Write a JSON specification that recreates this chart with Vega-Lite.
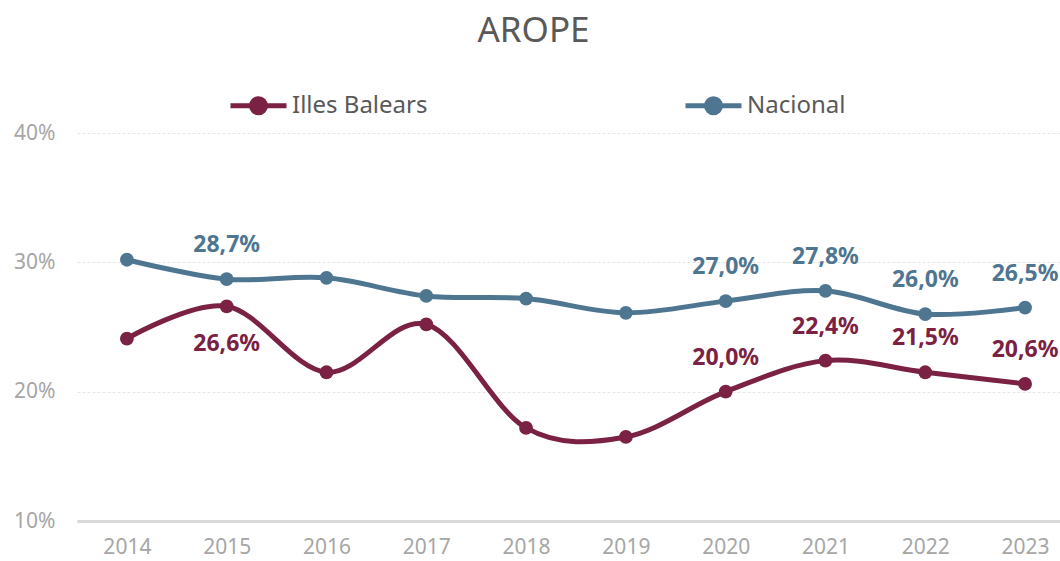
{
  "$schema": "https://vega.github.io/schema/vega-lite/v6.json",
  "autosize": {"type": "none"},
  "width": 983,
  "height": 388,
  "padding": {"left": 77, "top": 133, "right": 0, "bottom": 40},
  "background": "white",
  "title": {"text": "AROPE", "anchor": "middle", "frame": "group", "dx": -35, "offset": 26, "fontSize": 35, "fontWeight": "normal", "color": "#595959", "font": "Noto Sans"},
  "config": {
    "view": {"stroke": null},
    "locale": {"number": {"decimal": ",", "thousands": ".", "grouping": [3], "currency": ["", " €"]}},
    "font": "Noto Sans"
  },
  "data": {"values": [
    {"any": 2014, "serie": "Illes Balears", "valor": 0.241, "etiqueta": ""},
    {"any": 2015, "serie": "Illes Balears", "valor": 0.266, "etiqueta": "abajo"},
    {"any": 2016, "serie": "Illes Balears", "valor": 0.215, "etiqueta": ""},
    {"any": 2017, "serie": "Illes Balears", "valor": 0.252, "etiqueta": ""},
    {"any": 2018, "serie": "Illes Balears", "valor": 0.172, "etiqueta": ""},
    {"any": 2019, "serie": "Illes Balears", "valor": 0.165, "etiqueta": ""},
    {"any": 2020, "serie": "Illes Balears", "valor": 0.200, "etiqueta": "arriba"},
    {"any": 2021, "serie": "Illes Balears", "valor": 0.224, "etiqueta": "arriba"},
    {"any": 2022, "serie": "Illes Balears", "valor": 0.215, "etiqueta": "arriba"},
    {"any": 2023, "serie": "Illes Balears", "valor": 0.206, "etiqueta": "arriba"},
    {"any": 2014, "serie": "Nacional", "valor": 0.302, "etiqueta": ""},
    {"any": 2015, "serie": "Nacional", "valor": 0.287, "etiqueta": "arriba"},
    {"any": 2016, "serie": "Nacional", "valor": 0.288, "etiqueta": ""},
    {"any": 2017, "serie": "Nacional", "valor": 0.274, "etiqueta": ""},
    {"any": 2018, "serie": "Nacional", "valor": 0.272, "etiqueta": ""},
    {"any": 2019, "serie": "Nacional", "valor": 0.261, "etiqueta": ""},
    {"any": 2020, "serie": "Nacional", "valor": 0.270, "etiqueta": "arriba"},
    {"any": 2021, "serie": "Nacional", "valor": 0.278, "etiqueta": "arriba"},
    {"any": 2022, "serie": "Nacional", "valor": 0.260, "etiqueta": "arriba"},
    {"any": 2023, "serie": "Nacional", "valor": 0.265, "etiqueta": "arriba"}
  ]},
  "encoding": {
    "x": {"field": "any", "type": "quantitative",
      "scale": {"domain": [2013.5, 2023.35], "nice": false, "zero": false},
      "axis": {"title": null, "values": [2014,2015,2016,2017,2018,2019,2020,2021,2022,2023], "format": "d",
        "grid": false, "ticks": false, "domainColor": "#d9d9d9", "domainWidth": 3,
        "labelColor": "#a6a6a6", "labelFontSize": 21, "labelPadding": 15, "labelFont": "Noto Sans"}},
    "y": {"field": "valor", "type": "quantitative",
      "scale": {"domain": [0.1, 0.4], "nice": false, "zero": false},
      "axis": {"title": null, "values": [0.1, 0.2, 0.3, 0.4], "format": ".0%", "domain": false, "ticks": false,
        "gridColor": "#e6e6e6", "gridDash": [3, 2], "gridWidth": 1,
        "labelColor": "#a6a6a6", "labelFontSize": 21, "labelPadding": 22, "labelFont": "Noto Sans"}},
    "color": {"field": "serie", "type": "nominal",
      "scale": {"domain": ["Illes Balears", "Nacional"], "range": ["#7b2143", "#4f7690"]},
      "legend": {"title": null, "orient": "none", "legendX": 151, "legendY": -58, "direction": "horizontal",
        "symbolType": "M-1,0H1M-0.25,0A0.25,0.25 0 1,0 0.25,0A0.25,0.25 0 1,0 -0.25,0Z",
        "symbolSize": 3136, "symbolStrokeWidth": 5, "labelOffset": 3,
        "labelFontSize": 24, "labelColor": "#595959", "labelFont": "Noto Sans", "columnPadding": 247,
        "encode": {"symbols": {"update": {"fill": {"scale": "color", "field": "value"}, "stroke": {"scale": "color", "field": "value"}}}}}}
  },
  "layer": [
    {"mark": {"type": "line", "interpolate": "cardinal", "strokeWidth": 5}},
    {"mark": {"type": "point", "filled": true, "size": 190, "opacity": 1}},
    {"transform": [{"filter": "datum.etiqueta == 'arriba'"}],
     "mark": {"type": "text", "dy": -34, "fontSize": 23, "fontWeight": "bold", "font": "Noto Sans"},
     "encoding": {"text": {"field": "valor", "type": "quantitative", "format": ".1%"}}},
    {"transform": [{"filter": "datum.etiqueta == 'abajo'"}],
     "mark": {"type": "text", "dy": 38, "fontSize": 23, "fontWeight": "bold", "font": "Noto Sans"},
     "encoding": {"text": {"field": "valor", "type": "quantitative", "format": ".1%"}}}
  ]
}
